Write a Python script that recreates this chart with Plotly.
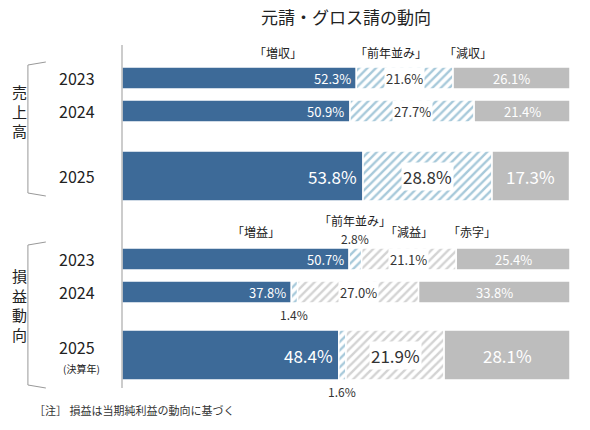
import plotly.graph_objects as go

years_sales = ["2023", "2024", "2025"]
sales_up = [52.3, 50.9, 53.8]
sales_flat = [21.6, 27.7, 28.8]
sales_down = [26.1, 21.4, 17.3]

years_profit = ["2023", "2024", "2025"]
profit_up = [50.7, 37.8, 48.4]
profit_flat = [2.8, 1.4, 1.6]
profit_down = [21.1, 27.0, 21.9]
profit_loss = [25.4, 33.8, 28.1]

OFF = 8
ys = [y - OFF for y in [78, 111, 176, 259, 292, 355]]
hs = [22, 22, 50, 22, 22, 50]

BLUE = "#3d6a98"
HB = "#4f93b5"
GRAY = "#bdbdbd"
HG = "#a8a8a8"
FONT = "Noto Sans CJK JP"

fig = go.Figure()

def seg(base, val, y, h, color, pattern=None, fg=None):
    fig.add_trace(go.Bar(
        x=val, base=base, y=y, width=h, orientation="h",
        marker=dict(color="white" if pattern else color,
                    line=dict(color="white", width=1.5),
                    pattern=dict(shape=pattern, fgcolor=fg, size=6, solidity=0.4) if pattern else None),
        showlegend=False, hoverinfo="skip"))

rows = []
for i in range(3):
    rows.append([(sales_up[i], "solid", BLUE), (sales_flat[i], "hatch", HB), (sales_down[i], "solid", GRAY)])
for i in range(3):
    rows.append([(profit_up[i], "solid", BLUE), (profit_flat[i], "hatch", HB),
                 (profit_down[i], "hatch", HG), (profit_loss[i], "solid", GRAY)])

annots = []
for r, row in enumerate(rows):
    base = 0
    big = hs[r] > 30
    fs = 17 if big else 13
    for j, (v, kind, col) in enumerate(row):
        if kind == "solid":
            seg([base], [v], [ys[r]], hs[r], col)
        else:
            seg([base], [v], [ys[r]], hs[r], col, "/", col)
        mid = base + v / 2
        txt = f"{v:.1f}%"
        if kind == "solid" and col == BLUE:
            annots.append(dict(x=base + v - 0.8, y=ys[r], text=txt, xanchor="right", showarrow=False,
                               font=dict(color="white", size=fs, family=FONT)))
        elif kind == "solid":
            annots.append(dict(x=mid, y=ys[r], text=txt, showarrow=False,
                               font=dict(color="white", size=fs, family=FONT)))
        elif v > 10:
            annots.append(dict(x=mid, y=ys[r], text=txt, showarrow=False, bgcolor="white",
                               font=dict(color="#333", size=fs, family=FONT)))
        base += v
    if r >= 3:
        v0 = row[0][0]; v1 = row[1][0]
        yy = ys[r] - 21 if r == 3 else ys[r] + hs[r] / 2 + 11
        annots.append(dict(x=v0 + v1 / 2, y=yy, text=f"{v1:.1f}%", showarrow=False,
                           font=dict(color="#333", size=12, family=FONT)))

for r in range(6):
    yr = (years_sales + years_profit)[r]
    annots.append(dict(x=-0.055, xref="paper", y=ys[r] - (8 if r == 5 else 0), text=yr, showarrow=False,
                       xanchor="right", font=dict(size=16, color="#222", family=FONT)))
annots.append(dict(x=-0.045, xref="paper", y=ys[5] + 13, text="(決算年)", showarrow=False,
                   xanchor="right", font=dict(size=10, color="#222", family=FONT)))

heads = [(0.29, 52, "「増収」"), (0.6, 52, "「前年並み」"), (0.83, 52, "「減収」"),
         (0.24, 231, "「増益」"), (0.52, 220, "「前年並み」"), (0.64, 231, "「減益」"), (0.84, 231, "「赤字」")]
for x, y, t in heads:
    annots.append(dict(x=x, xref="paper", y=y - OFF, text=t, showarrow=False,
                       font=dict(size=12, color="#222", family=FONT)))

annots.append(dict(x=-0.25, xref="paper", y=111 - OFF, text="売<br>上<br>高", showarrow=False,
                   font=dict(size=15, color="#222", family=FONT)))
annots.append(dict(x=-0.25, xref="paper", y=305 - OFF, text="損<br>益<br>動<br>向", showarrow=False,
                   font=dict(size=15, color="#222", family=FONT)))
annots.append(dict(x=0.5, xref="paper", y=16 - OFF, text="元請・グロス請の動向", showarrow=False,
                   font=dict(size=17, color="#222", family=FONT)))
annots.append(dict(x=-0.2, xref="paper", y=410 - OFF, text="［注］ 損益は当期純利益の動向に基づく", showarrow=False,
                   xanchor="left", font=dict(size=11, color="#333", family=FONT)))

shapes = [dict(type="line", xref="paper", x0=0, x1=0, y0=45 - OFF, y1=388 - OFF, line=dict(color="#999", width=1))]
for y0, y1 in [(62 - OFF, 196 - OFF), (242 - OFF, 388 - OFF)]:
    shapes.append(dict(type="path", xref="paper",
                       path=f"M -0.17 {y0} L -0.21 {y0+3} L -0.21 {y1-3} L -0.17 {y1}",
                       line=dict(color="#999", width=1)))

fig.update_layout(
    width=590, height=430, margin=dict(l=114, r=28, t=0, b=0),
    barmode="overlay", plot_bgcolor="white", paper_bgcolor="white",
    xaxis=dict(range=[0, 100], visible=False, fixedrange=True),
    yaxis=dict(range=[430, 0], visible=False, fixedrange=True),
    annotations=annots, shapes=shapes)
fig.write_html("out.html")
